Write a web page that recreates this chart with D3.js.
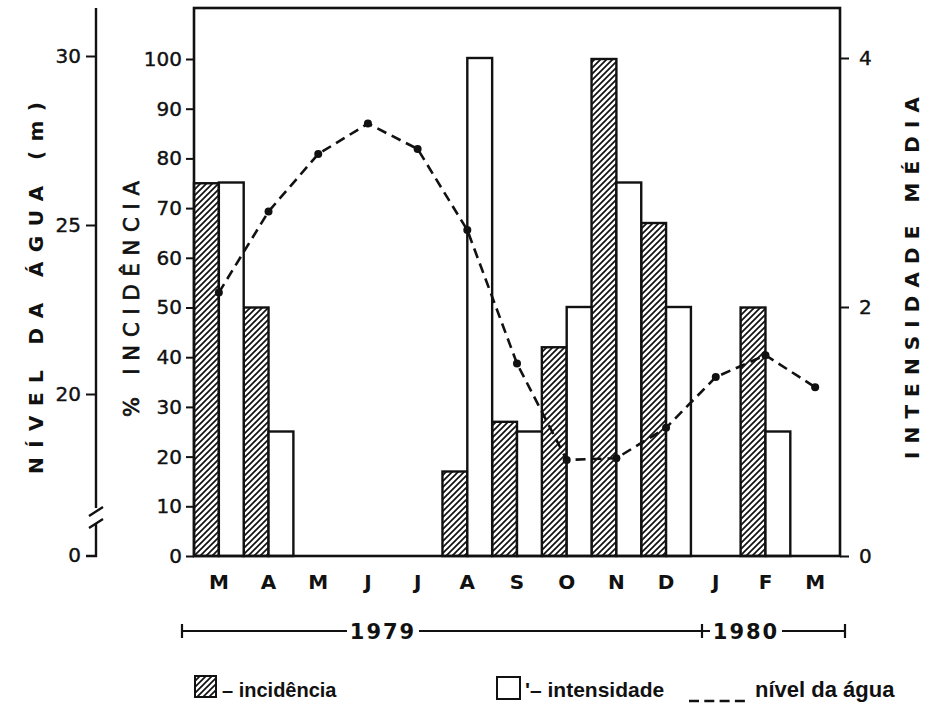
<!DOCTYPE html>
<html>
<head>
<meta charset="utf-8">
<script src="https://cdn.jsdelivr.net/npm/d3@7"></script>
<style>
  body { margin: 0; background: #fff; }
  .tick text { font-family: 'DejaVu Sans', sans-serif; font-size: 20px; fill: #111; stroke: #111; stroke-width: 0.4; }
  .tick line { stroke: #111; stroke-width: 2; }
</style>
</head>
<body>
<div class="visHolder"></div>
<script>
// ========================================
// Data
// ========================================
const months      = ['M', 'A', 'M', 'J', 'J', 'A', 'S', 'O', 'N', 'D', 'J', 'F', 'M'];
const incidencia  = [75, 50, 0, 0, 0, 17, 27, 42, 100, 67, 0, 50, 0];         // % incidência (hatched)
const intensidade = [3, 1, 0, 0, 0, 4, 1, 2, 3, 2, 0, 1, 0];                  // intensidade média (open)
const nivelAgua   = [23.0, 25.4, 27.1, 28.0, 27.25, 24.85, 20.9, 18.05, 18.1, 19.0, 20.5, 21.15, 20.2]; // m
const incTicks    = [0, 10, 20, 30, 40, 50, 60, 70, 80, 90, 100];
const intTicks    = [0, 2, 4];
const nivelTicks  = [20, 25, 30];
const years       = ['1979', '1980'];

// ========================================
// Dimensions
// ========================================
const
  width = 927,
  height = 703,
  plotLeft = 194,     // frame left  (incidência axis)
  plotRight = 840,    // frame right (intensidade axis)
  plotTop = 8,
  plotBottom = 556,
  nivelX = 96,        // position of the water level axis
  ink = '#111';

const svg = d3.select('.visHolder')
  .append('svg')
    .attr('width', width)
    .attr('height', height)
    .style('background', '#fff');

// hatch pattern for the incidência bars
const pattern = svg.append('defs')
  .append('pattern')
    .attr('id', 'hatch')
    .attr('patternUnits', 'userSpaceOnUse')
    .attr('width', 6)
    .attr('height', 6);
pattern.append('path')
  .attr('d', 'M0,6 L6,0 M-1,1 L1,-1 M5,7 L7,5')
  .attr('stroke', ink)
  .attr('stroke-width', 1.7);

// ========================================
// Scales
// ========================================
const xScale = d3.scaleBand().domain(d3.range(months.length)).range([plotLeft, plotRight]).padding(0);
const bw = xScale.bandwidth();
const yInc = d3.scaleLinear().domain([0, 100]).range([plotBottom, 59]);
const yInt = d3.scaleLinear().domain([0, 4]).range([plotBottom, 58]);
const yNivel = d3.scaleLinear().domain([20, 30]).range([394, 56]);

// ========================================
// Bars
// ========================================
svg.append('g')
  .selectAll('rect')
  .data(incidencia)
  .enter()
  .append('rect')
    .attr('x', (d, i) => xScale(i))
    .attr('y', d => yInc(d))
    .attr('width', bw / 2)
    .attr('height', d => plotBottom - yInc(d))
    .attr('fill', 'url(#hatch)')
    .attr('stroke', d => d > 0 ? ink : 'none')
    .attr('stroke-width', 2.4);

svg.append('g')
  .selectAll('rect')
  .data(intensidade)
  .enter()
  .append('rect')
    .attr('x', (d, i) => xScale(i) + bw / 2)
    .attr('y', d => yInt(d))
    .attr('width', bw / 2)
    .attr('height', d => plotBottom - yInt(d))
    .attr('fill', '#fff')
    .attr('stroke', d => d > 0 ? ink : 'none')
    .attr('stroke-width', 2.4);

// ========================================
// Water level line
// ========================================
const line = d3.line()
  .x((d, i) => xScale(i) + bw / 2)
  .y(d => yNivel(d));

svg.append('path')
  .datum(nivelAgua)
  .attr('d', line)
  .attr('fill', 'none')
  .attr('stroke', ink)
  .attr('stroke-width', 2.6)
  .attr('stroke-dasharray', '10,6');

svg.append('g')
  .selectAll('circle')
  .data(nivelAgua)
  .enter()
  .append('circle')
    .attr('cx', (d, i) => xScale(i) + bw / 2)
    .attr('cy', d => yNivel(d))
    .attr('r', 4)
    .attr('fill', ink);

// ========================================
// Frame
// ========================================
svg.append('rect')
  .attr('x', plotLeft)
  .attr('y', plotTop)
  .attr('width', plotRight - plotLeft)
  .attr('height', plotBottom - plotTop)
  .attr('fill', 'none')
  .attr('stroke', ink)
  .attr('stroke-width', 2.6);

// ========================================
// Axes
// ========================================
const incAxis = svg.append('g')
  .attr('transform', 'translate(' + plotLeft + ',0)')
  .call(d3.axisLeft(yInc).tickValues(incTicks).tickSize(8).tickPadding(4));
incAxis.select('.domain').remove();

const intAxis = svg.append('g')
  .attr('transform', 'translate(' + plotRight + ',0)')
  .call(d3.axisRight(yInt).tickValues(intTicks).tickFormat(d3.format('d')).tickSize(9).tickPadding(10));
intAxis.select('.domain').remove();

const nivelAxis = svg.append('g')
  .attr('transform', 'translate(' + nivelX + ',0)')
  .call(d3.axisLeft(yNivel).tickValues(nivelTicks).tickSize(10).tickPadding(5));
nivelAxis.select('.domain').remove();

// water level axis line with the break and the "0" at the bottom
svg.append('path')
  .attr('d', 'M' + nivelX + ',' + plotTop + 'V508 M' + (nivelX - 7) + ',516 L' + (nivelX + 7) + ',507'
    + ' M' + (nivelX - 7) + ',528 L' + (nivelX + 7) + ',519 M' + nivelX + ',524 V' + plotBottom + ' H' + (nivelX - 10))
  .attr('fill', 'none')
  .attr('stroke', ink)
  .attr('stroke-width', 2.4);
svg.append('text')
  .attr('x', nivelX - 15)
  .attr('y', plotBottom)
  .attr('dy', '0.32em')
  .attr('text-anchor', 'end')
  .style('font-family', 'DejaVu Sans, sans-serif')
  .style('font-size', '20px')
  .style('stroke', ink)
  .style('stroke-width', 0.4)
  .attr('fill', ink)
  .text('0');

// month labels
svg.append('g')
  .selectAll('text')
  .data(months)
  .enter()
  .append('text')
    .attr('x', (d, i) => xScale(i) + bw / 2)
    .attr('y', 589)
    .attr('text-anchor', 'middle')
    .style('font-family', 'DejaVu Sans, sans-serif')
    .style('font-weight', 'bold')
    .style('font-size', '20px')
    .attr('fill', ink)
    .text(d => d);

// ========================================
// Axis titles (rotated)
// ========================================
function vTitle(label, x, yc, len, weight, size, extra) {
  svg.append('text')
    .attr('transform', 'translate(' + x + ',' + yc + ') rotate(-90)')
    .attr('text-anchor', 'middle')
    .attr('dy', '0.35em')
    .attr('textLength', len)
    .attr('lengthAdjust', 'spacing')
    .style('font-family', 'DejaVu Sans, sans-serif')
    .style('font-weight', weight)
    .style('font-size', size + 'px')
    .style('stroke', ink)
    .style('stroke-width', extra)
    .attr('fill', ink)
    .text(label);
}
vTitle('NÍVEL  DA  ÁGUA  (m)', 36, 288, 372, 'bold', 20, 0);
vTitle('% INCIDÊNCIA', 132, 299, 236, 'normal', 21, 0.7);
vTitle('INTENSIDADE  MÉDIA', 912, 278, 362, 'bold', 20, 0);

// ========================================
// Year bar under the months
// ========================================
const yearY = 631;
const yearMid = [383, 746];   // text centres
const yearGap = 36;
const tickX = 702;
const yearLeft = 182, yearRight = 845;
svg.append('path')
  .attr('d', 'M' + yearLeft + ',' + (yearY - 7) + 'V' + (yearY + 7)
    + ' M' + yearLeft + ',' + yearY + 'H' + (yearMid[0] - yearGap)
    + ' M' + (yearMid[0] + yearGap) + ',' + yearY + 'H' + (yearMid[1] - yearGap)
    + ' M' + tickX + ',' + (yearY - 7) + 'V' + (yearY + 7)
    + ' M' + (yearMid[1] + yearGap) + ',' + yearY + 'H' + yearRight
    + ' M' + yearRight + ',' + (yearY - 7) + 'V' + (yearY + 7))
  .attr('fill', 'none')
  .attr('stroke', ink)
  .attr('stroke-width', 2.2);

svg.append('g')
  .selectAll('text')
  .data(years)
  .enter()
  .append('text')
    .attr('x', (d, i) => yearMid[i])
    .attr('y', yearY)
    .attr('dy', '0.36em')
    .attr('text-anchor', 'middle')
    .style('font-family', 'DejaVu Sans, sans-serif')
    .style('font-weight', 'bold')
    .style('font-size', '21px')
    .style('letter-spacing', '2px')
    .attr('fill', ink)
    .text(d => d);

// ========================================
// Legend
// ========================================
const legendFont = 'Liberation Sans, Arial, sans-serif';
svg.append('rect')
  .attr('x', 195).attr('y', 676).attr('width', 21).attr('height', 21)
  .attr('fill', 'url(#hatch)').attr('stroke', ink).attr('stroke-width', 2);
svg.append('text')
  .attr('x', 222).attr('y', 697)
  .style('font-family', legendFont).style('font-weight', 'bold').style('font-size', '20px')
  .attr('fill', ink)
  .text('– incidência');

svg.append('rect')
  .attr('x', 497).attr('y', 677).attr('width', 23).attr('height', 22)
  .attr('fill', '#fff').attr('stroke', ink).attr('stroke-width', 2);
svg.append('text')
  .attr('x', 525).attr('y', 697)
  .style('font-family', legendFont).style('font-weight', 'bold').style('font-size', '21px')
  .attr('fill', ink)
  .text('\'– intensidade');

svg.append('line')
  .attr('x1', 689).attr('x2', 745).attr('y1', 701).attr('y2', 701)
  .attr('stroke', ink).attr('stroke-width', 2.4).attr('stroke-dasharray', '10,5.3');
svg.append('text')
  .attr('x', 755).attr('y', 697)
  .style('font-family', legendFont).style('font-weight', 'bold').style('font-size', '22px')
  .attr('fill', ink)
  .text('nível da água');
</script>
</body>
</html>
